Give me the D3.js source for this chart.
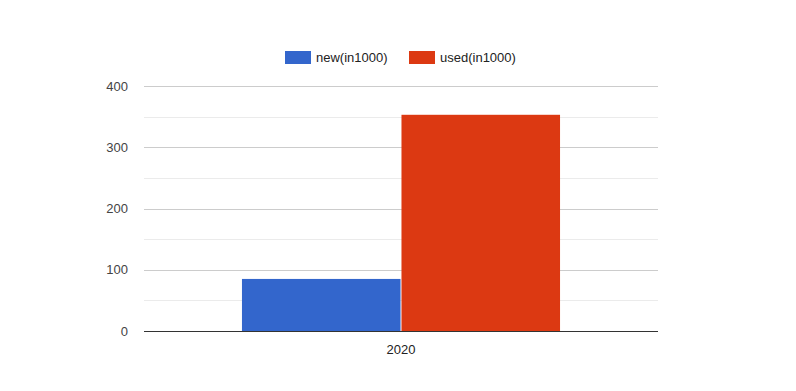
<!DOCTYPE html>
<html>
<head>
<meta charset="utf-8">
<script src="https://d3js.org/d3.v7.min.js"></script>
<style>
  body { margin: 0; background: #fff; }
  text { font-family: "Liberation Sans", Arial, sans-serif; font-size: 13px; }
</style>
</head>
<body>
<div id="chart"></div>
<script>
// data
var categories = ["2020"];
var seriesNames = ["new(in1000)", "used(in1000)"];
var seriesColors = ["#3366cc", "#dc3912"];
var newValues = [85];
var usedValues = [353];
var yTicks = [0, 100, 200, 300, 400];
var yMinorTicks = [50, 150, 250, 350];

var W = 796, H = 391;
var margin = { top: 86, right: 138, bottom: 60, left: 144 };
var width = W - margin.left - margin.right,
    height = 331 - margin.top;

var svg = d3.select("#chart").append("svg")
  .attr("width", W).attr("height", H);

var g = svg.append("g")
  .attr("transform", "translate(" + margin.left + "," + margin.top + ")");

var y = d3.scaleLinear().domain([0, 400]).range([height, 0]);
var x0 = d3.scaleBand().domain(categories).range([0, width]).paddingInner(0).paddingOuter(0.308);
var x1 = d3.scaleBand().domain(seriesNames).range([0, x0.bandwidth()]).paddingInner(0.006);

// minor gridlines
g.selectAll(".minor").data(yMinorTicks).enter().append("line")
  .attr("x1", 0).attr("x2", width)
  .attr("y1", function (d) { return Math.round(y(d)) + 0.5; })
  .attr("y2", function (d) { return Math.round(y(d)) + 0.5; })
  .attr("stroke", "#ebebeb");

// major gridlines
g.selectAll(".major").data(yTicks.filter(function (d) { return d > 0; })).enter().append("line")
  .attr("x1", 0).attr("x2", width)
  .attr("y1", function (d) { return Math.round(y(d)) + 0.5; })
  .attr("y2", function (d) { return Math.round(y(d)) + 0.5; })
  .attr("stroke", "#cccccc");

// y labels
g.selectAll(".ylab").data(yTicks).enter().append("text")
  .attr("x", -16).attr("y", function (d) { return y(d); })
  .attr("dy", "0.35em")
  .attr("text-anchor", "end")
  .attr("fill", "#444")
  .text(function (d) { return d; });

// bars
var rows = categories.map(function (c, i) {
  return { cat: c, vals: [newValues[i], usedValues[i]] };
});
var grp = g.selectAll(".grp").data(rows).enter().append("g")
  .attr("transform", function (d) { return "translate(" + x0(d.cat) + ",0)"; });
grp.selectAll("rect").data(function (d) {
  return d.vals.map(function (v, j) { return { name: seriesNames[j], v: v, c: seriesColors[j] }; });
}).enter().append("rect")
  .attr("x", function (d) { return x1(d.name); })
  .attr("width", x1.bandwidth())
  .attr("y", function (d) { return y(d.v); })
  .attr("height", function (d) { return height - y(d.v); })
  .attr("fill", function (d) { return d.c; });

// baseline
g.append("line")
  .attr("x1", 0).attr("x2", width)
  .attr("y1", height + 0.5).attr("y2", height + 0.5)
  .attr("stroke", "#333");

// x labels
g.selectAll(".xlab").data(categories).enter().append("text")
  .attr("x", function (d) { return x0(d) + x0.bandwidth() / 2; })
  .attr("y", height + 23)
  .attr("text-anchor", "middle")
  .attr("fill", "#222")
  .text(function (d) { return d; });

// legend
var legendX = [285, 409];
var leg = svg.selectAll(".leg").data(seriesNames).enter().append("g")
  .attr("transform", function (d, i) { return "translate(" + legendX[i] + ",51)"; });
leg.append("rect").attr("width", 26).attr("height", 13)
  .attr("fill", function (d, i) { return seriesColors[i]; });
leg.append("text").attr("x", 31).attr("y", 11)
  .attr("fill", "#222")
  .text(function (d) { return d; });
</script>
</body>
</html>
